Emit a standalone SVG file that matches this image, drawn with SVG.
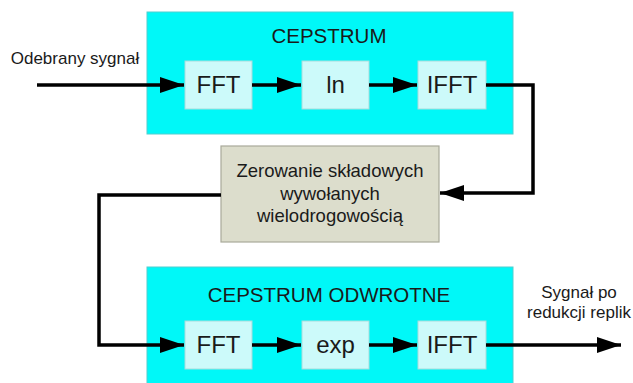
<svg xmlns="http://www.w3.org/2000/svg" width="633" height="383" viewBox="0 0 633 383">
  <style>
    .stage { fill: #00F8F8; stroke: #4FD0D0; stroke-width: 1; }
    .block { fill: #CCFAFA; stroke: #A8DCDC; stroke-width: 1; }
    .proc { fill: #DCDDCC; stroke: #A9AA9A; stroke-width: 1.2; }
    .title { font-family: "Liberation Sans", Arial, sans-serif; font-size: 20.5px; fill: #1a1a1a; text-anchor: middle; }
    .op { font-family: "Liberation Sans", Arial, sans-serif; font-size: 24px; fill: #1a1a1a; text-anchor: middle; }
    .lbl { font-family: "Liberation Sans", Arial, sans-serif; font-size: 17px; fill: #1a1a1a; text-anchor: middle; }
    .big { font-size: 18.5px; }
    .out { font-size: 17px; }
    .wire { fill: none; stroke: #000; stroke-width: 3.5; stroke-linejoin: miter; }
  </style>
  <defs>
    <marker id="head" markerUnits="userSpaceOnUse" markerWidth="26" markerHeight="18" refX="24" refY="8" orient="auto">
      <path d="M0,0 L24,8 L0,16 Z" fill="#000"/>
    </marker>
  </defs>
  <rect width="633" height="383" fill="#fff"/>

  <!-- forward cepstrum stage -->
  <g id="cepstrum">
    <rect class="stage" x="147" y="12" width="366" height="122"/>
    <text class="title" x="329" y="43">CEPSTRUM</text>
  </g>
  <g id="fft1">
    <rect class="block" x="185" y="61" width="67" height="48"/>
    <text class="op" x="218.5" y="93">FFT</text>
  </g>
  <g id="ln">
    <rect class="block" x="302" y="61" width="67" height="48"/>
    <text class="op" x="335.5" y="93">ln</text>
  </g>
  <g id="ifft1">
    <rect class="block" x="418" y="61" width="68" height="48"/>
    <text class="op" x="452" y="93">IFFT</text>
  </g>

  <!-- liftering block -->
  <g id="zerowanie">
    <rect class="proc" x="221" y="146" width="218" height="96"/>
    <text class="lbl big" x="330" y="177">Zerowanie składowych</text>
    <text class="lbl big" x="330" y="199.5">wywołanych</text>
    <text class="lbl big" x="330" y="222">wielodrogowością</text>
  </g>

  <!-- inverse cepstrum stage -->
  <g id="cepstrum-odwrotne">
    <rect class="stage" x="147" y="267" width="366" height="120"/>
    <text class="title" x="329" y="302">CEPSTRUM ODWROTNE</text>
  </g>
  <g id="fft2">
    <rect class="block" x="185" y="321" width="67" height="48"/>
    <text class="op" x="218.5" y="353">FFT</text>
  </g>
  <g id="exp">
    <rect class="block" x="302" y="321" width="67" height="48"/>
    <text class="op" x="335.5" y="353">exp</text>
  </g>
  <g id="ifft2">
    <rect class="block" x="418" y="321" width="68" height="48"/>
    <text class="op" x="452" y="353">IFFT</text>
  </g>

  <!-- signal labels -->
  <g id="wejscie">
    <text class="lbl" x="75" y="64">Odebrany sygnał</text>
  </g>
  <g id="wyjscie">
    <text class="lbl out" x="579" y="298">Sygnał po</text>
    <text class="lbl out" x="579" y="318">redukcji replik</text>
  </g>

  <!-- connectors -->
  <g id="connectors">
    <path class="wire" d="M37,85 H184" marker-end="url(#head)"/>
    <path class="wire" d="M252,85 H301" marker-end="url(#head)"/>
    <path class="wire" d="M369,85 H417" marker-end="url(#head)"/>
    <path class="wire" d="M486,85 H533 V193 H440" marker-end="url(#head)"/>
    <path class="wire" d="M221,195 H99 V345 H184" marker-end="url(#head)"/>
    <path class="wire" d="M252,345 H301" marker-end="url(#head)"/>
    <path class="wire" d="M369,345 H417" marker-end="url(#head)"/>
    <path class="wire" d="M486,345 H621" marker-end="url(#head)"/>
  </g>
</svg>
